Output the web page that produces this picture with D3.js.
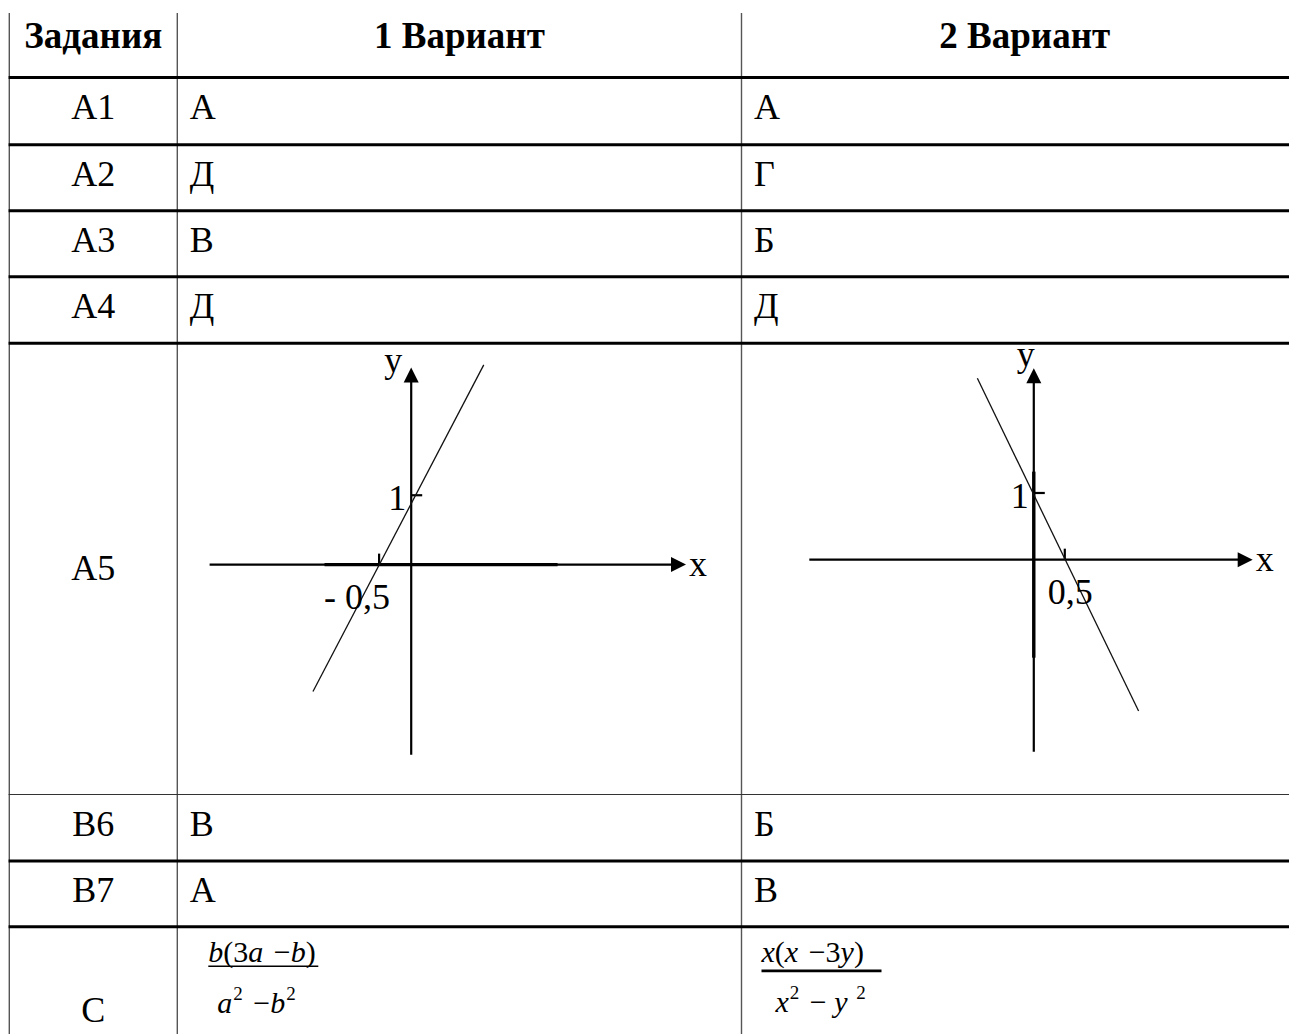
<!DOCTYPE html>
<html>
<head>
<meta charset="utf-8">
<script src="https://cdn.jsdelivr.net/npm/d3@7"></script>
<style>
  body { margin: 0; background: #fff; }
  svg { display: block; }
</style>
</head>
<body>
<div id="chart"></div>
<script>
// table contents
var headers  = ["Задания", "1 Вариант", "2 Вариант"];
var tasks    = ["А1", "А2", "А3", "А4", "А5", "В6", "В7", "С"];
var variant1 = ["А", "Д", "В", "Д", "", "В", "А", ""];
var variant2 = ["А", "Г", "Б", "Д", "", "Б", "В", ""];

// graphs in row А5 (in axis units)
var graph1XExtent = [-3.14, 4.28];
var graph1YExtent = [-2.74, 2.84];
var graph1Bold    = [-1.35, 2.28];          // heavier piece of the x axis
var graph1Line    = [[1.13, 2.88], [-1.53, -1.83]];
var graph1XTick   = -0.5, graph1XLabel = "- 0,5";
var graph1YTick   = 1,    graph1YLabel = "1";

var graph2XExtent = [-3.62, 3.53];
var graph2YExtent = [-2.88, 2.87];
var graph2Bold    = [-1.47, 1.32];          // heavier piece of the y axis
var graph2Line    = [[-0.91, 2.72], [1.69, -2.27]];
var graph2XTick   = 0.5, graph2XLabel = "0,5";
var graph2YTick   = 1,   graph2YLabel = "1";

// answers in row С: [text, style]  i = italic, s = superscript
var formula1Num = [["b","i"],["(3",""],["a","i"],[" \u2212",""],["b","i"],[")",""]];
var formula1Den = [["a","i"],["2","s"],[" \u2212",""],["b","i"],["2","s"]];
var formula2Num = [["x","i"],["(",""],["x","i"],[" \u2212","" ],["3",""],["y","i"],[")",""]];
var formula2Den = [["x","i"],["2","s"],[" \u2212 ",""],["y","i"],[" 2","s"]];

// layout
var width = 1289, height = 1034;
var colEdges = [9.3, 177.3, 741.5, 1308];
var rowHeights = [64.5, 67.3, 65.9, 66.1, 66.5, 451.2, 66.5, 65.8, 107.2];
var rowEdges = [13];
rowHeights.forEach(function(h, i) { rowEdges.push(rowEdges[i] + h); });

var serif = "'Liberation Serif', 'Times New Roman', serif";

var svg = d3.select("#chart")
  .append("svg")
    .attr("width", width)
    .attr("height", height)
    .style("font-family", serif);

// grid: vertical rules
svg.append("g")
  .selectAll("line")
  .data(colEdges.slice(0, 3))
  .enter()
  .append("line")
    .attr("x1", function(d) { return d; })
    .attr("x2", function(d) { return d; })
    .attr("y1", rowEdges[0])
    .attr("y2", height)
    .attr("stroke", "#555")
    .attr("stroke-width", 1.4);

// grid: horizontal rules (the one above В6 is thin)
svg.append("g")
  .selectAll("line")
  .data(rowEdges.slice(1, 9))
  .enter()
  .append("line")
    .attr("x1", colEdges[0] - 0.7)
    .attr("x2", width)
    .attr("y1", function(d) { return d; })
    .attr("y2", function(d) { return d; })
    .attr("stroke", function(d, i) { return i == 5 ? "#333" : "#000"; })
    .attr("stroke-width", function(d, i) { return i == 5 ? 1.2 : 3; });

// header row
svg.append("g")
  .selectAll("text")
  .data(headers)
  .enter()
  .append("text")
    .attr("x", function(d, i) { return (colEdges[i] + colEdges[i + 1]) / 2; })
    .attr("y", rowEdges[0] + 35)
    .attr("text-anchor", "middle")
    .attr("font-size", 37)
    .attr("font-weight", "bold")
    .text(function(d) { return d; });

function baseline(i) {
  var r = i + 1;
  if (tasks[i] == "С") return rowEdges[r] + 95;
  if (tasks[i] == "А5") return (rowEdges[r] + rowEdges[r + 1]) / 2 + 11;
  return rowEdges[r] + 41;
}

// task column
svg.append("g")
  .selectAll("text")
  .data(tasks)
  .enter()
  .append("text")
    .attr("x", (colEdges[0] + colEdges[1]) / 2)
    .attr("y", function(d, i) { return baseline(i); })
    .attr("text-anchor", "middle")
    .attr("font-size", 36)
    .text(function(d) { return d; });

// answer columns
[variant1, variant2].forEach(function(col, c) {
  svg.append("g")
    .selectAll("text")
    .data(col)
    .enter()
    .append("text")
      .attr("x", colEdges[c + 1] + 12.5)
      .attr("y", function(d, i) { return baseline(i); })
      .attr("font-size", 36)
      .text(function(d) { return d; });
});

// graphs
function drawGraph(cfg) {
  var g = svg.append("g");
  var x = d3.scaleLinear().domain(cfg.xExt).range(cfg.xRange);
  var y = d3.scaleLinear().domain(cfg.yExt).range(cfg.yRange);
  var head = 15, half = 7.5;

  // x axis with arrow
  g.append("line")
    .attr("x1", x(cfg.xExt[0])).attr("x2", x(cfg.xExt[1]) - head + 1)
    .attr("y1", y(0)).attr("y2", y(0))
    .attr("stroke", "#000").attr("stroke-width", 2.2);
  g.append("path")
    .attr("d", "M" + x(cfg.xExt[1]) + "," + y(0) +
               "L" + (x(cfg.xExt[1]) - head) + "," + (y(0) - half) +
               "L" + (x(cfg.xExt[1]) - head) + "," + (y(0) + half) + "Z")
    .attr("fill", "#000");

  // y axis with arrow
  g.append("line")
    .attr("x1", x(0)).attr("x2", x(0))
    .attr("y1", y(cfg.yExt[0])).attr("y2", y(cfg.yExt[1]) + head - 1)
    .attr("stroke", "#000").attr("stroke-width", 2.2);
  g.append("path")
    .attr("d", "M" + x(0) + "," + y(cfg.yExt[1]) +
               "L" + (x(0) - half) + "," + (y(cfg.yExt[1]) + head) +
               "L" + (x(0) + half) + "," + (y(cfg.yExt[1]) + head) + "Z")
    .attr("fill", "#000");

  // heavier piece of one axis
  if (cfg.boldOn == "x") {
    g.append("line")
      .attr("x1", x(cfg.bold[0])).attr("x2", x(cfg.bold[1]))
      .attr("y1", y(0)).attr("y2", y(0))
      .attr("stroke", "#000").attr("stroke-width", 3.2);
  } else {
    g.append("line")
      .attr("x1", x(0)).attr("x2", x(0))
      .attr("y1", y(cfg.bold[0])).attr("y2", y(cfg.bold[1]))
      .attr("stroke", "#000").attr("stroke-width", 3.4);
  }

  // ticks
  g.append("line")
    .attr("x1", x(cfg.xTick)).attr("x2", x(cfg.xTick))
    .attr("y1", y(0) - 11).attr("y2", y(0))
    .attr("stroke", "#000").attr("stroke-width", 2.2);
  g.append("line")
    .attr("x1", x(0)).attr("x2", x(0) + 11)
    .attr("y1", y(cfg.yTick)).attr("y2", y(cfg.yTick))
    .attr("stroke", "#000").attr("stroke-width", 2.2);

  // the graph line
  g.append("path")
    .datum(cfg.line)
    .attr("d", d3.line()
      .x(function(d) { return x(d[0]); })
      .y(function(d) { return y(d[1]); }))
    .attr("fill", "none")
    .attr("stroke", "#111")
    .attr("stroke-width", 1.3);

  // labels
  var t = g.append("g").attr("font-size", 36);
  t.append("text")
    .attr("x", x(0) + cfg.yNameDx).attr("y", y(cfg.yExt[1]) + cfg.yNameDy)
    .attr("text-anchor", cfg.yNameAnchor)
    .text("y");
  t.append("text")
    .attr("x", x(cfg.xExt[1]) + 3).attr("y", y(0) + 11)
    .text("x");
  t.append("text")
    .attr("x", x(0) - 5).attr("y", y(cfg.yTick) + 15)
    .attr("text-anchor", "end")
    .text(cfg.yLabel);
  t.append("text")
    .attr("x", x(cfg.xTick) + cfg.xLabelDx).attr("y", y(0) + 44)
    .attr("text-anchor", cfg.xLabelAnchor)
    .text(cfg.xLabel);
}

drawGraph({
  xExt: graph1XExtent, yExt: graph1YExtent,
  xRange: [209.6, 686], yRange: [754.7, 367.6],
  bold: graph1Bold, boldOn: "x", line: graph1Line,
  xTick: graph1XTick, xLabel: graph1XLabel, xLabelDx: 11, xLabelAnchor: "end",
  yTick: graph1YTick, yLabel: graph1YLabel,
  yNameDx: -9, yNameDy: 4, yNameAnchor: "end"
});

drawGraph({
  xExt: graph2XExtent, yExt: graph2YExtent,
  xRange: [809.3, 1252.7], yRange: [751.7, 368.3],
  bold: graph2Bold, boldOn: "y", line: graph2Line,
  xTick: graph2XTick, xLabel: graph2XLabel, xLabelDx: -17, xLabelAnchor: "start",
  yTick: graph2YTick, yLabel: graph2YLabel,
  yNameDx: -8, yNameDy: -2, yNameAnchor: "middle"
});

// fractions in row С
function drawTokens(x0, y0, tokens) {
  var text = svg.append("text")
    .attr("x", x0).attr("y", y0)
    .attr("font-size", 30);
  var raised = false;
  tokens.forEach(function(tk) {
    var sp = text.append("tspan").text(tk[0]);
    var gap = tk[0].charAt(0) == " " ? 3 : 0;
    if (tk[1] == "i") sp.attr("font-style", "italic");
    if (tk[1] == "s") {
      sp.attr("font-size", 19).attr("dy", raised ? 0 : -13).attr("dx", 1 + gap);
      raised = true;
    } else {
      if (raised) sp.attr("dy", 13);
      raised = false;
      if (gap) sp.attr("dx", gap);
    }
  });
}

function drawFraction(x0, num, den, cfg) {
  drawTokens(x0, cfg.numY, num);
  svg.append("line")
    .attr("x1", x0).attr("x2", x0 + cfg.barLen)
    .attr("y1", cfg.barY).attr("y2", cfg.barY)
    .attr("stroke", "#000").attr("stroke-width", cfg.barW);
  drawTokens(x0 + cfg.denDx, cfg.denY, den);
}

var cTop = rowEdges[8];
drawFraction(colEdges[1] + 31, formula1Num, formula1Den, {
  numY: cTop + 35, barY: cTop + 39.5, barLen: 110, barW: 1.6,
  denDx: 9, denY: cTop + 86.5
});
drawFraction(colEdges[2] + 20, formula2Num, formula2Den, {
  numY: cTop + 35, barY: cTop + 44, barLen: 120, barW: 2.8,
  denDx: 14, denY: cTop + 85
});
</script>
</body>
</html>
